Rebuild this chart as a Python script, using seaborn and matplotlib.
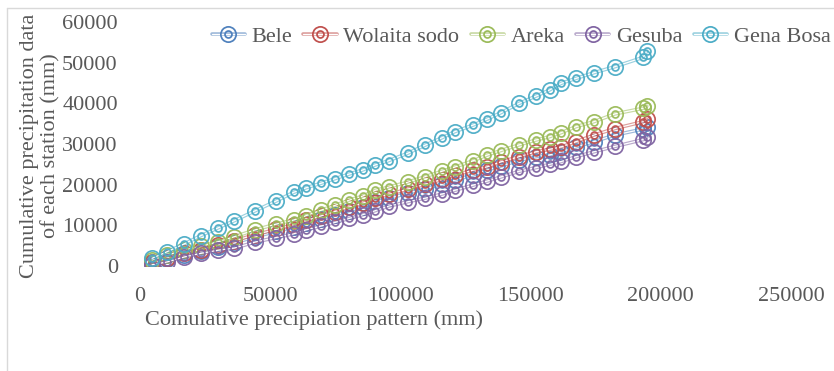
import matplotlib
matplotlib.use("Agg")
import matplotlib.pyplot as plt
from matplotlib.lines import Line2D
import numpy as np
import pandas as pd
import seaborn as sns

# ---------------- data ----------------
cum_pattern = [4640, 10430, 16890, 23300, 30140, 36210, 44320, 52280, 59000, 63870,
               69440, 74850, 80370, 85510, 90300, 95440, 102780, 109620, 116040, 120830,
               128020, 133420, 138600, 145670, 152120, 157260, 161780, 167580, 174380, 182380,
               193310, 194630]

bele = [700, 1600, 2800, 3700, 4700, 5700, 7200, 8500, 9600, 10500,
        11600, 12600, 13600, 14500, 15700, 16600, 17900, 19000, 20100, 21100,
        22400, 23600, 24600, 26000, 26900, 27300, 28100, 29300, 30600, 32200,
        33700, 34200]

wolaita_sodo = [900, 1900, 3100, 4000, 5100, 6200, 7700, 9000, 10200, 11200,
                12300, 13400, 14500, 15400, 16700, 17600, 18900, 20100, 21300, 22300,
                23600, 24400, 25600, 26900, 28100, 28700, 29300, 30600, 32200, 33800,
                35500, 36100]

areka = [1500, 2700, 3900, 4800, 6000, 7200, 8900, 10300, 11300, 12400,
         13700, 14900, 16200, 17200, 18600, 19400, 20600, 22000, 23300, 24300,
         25900, 27300, 28400, 29800, 31000, 31800, 32800, 34300, 35500, 37400,
         38800, 39300]

gesuba = [300, 1000, 2200, 3100, 3900, 4400, 5900, 7000, 7900, 8900,
          9800, 10700, 11700, 12600, 13600, 14700, 15800, 16700, 17700, 18600,
          19900, 20900, 21900, 23300, 24200, 25000, 25700, 26900, 28100, 29400,
          31100, 31700]

gena_bosa = [1890, 3520, 5410, 7450, 9420, 11140, 13600, 15980, 18120, 19250,
             20330, 21470, 22620, 23610, 24840, 25890, 27710, 29750, 31550, 33020,
             34670, 36150, 37700, 40010, 41800, 43280, 44930, 46160, 47540, 49010,
             51320, 52870]

stations = ["Bele", "Wolaita sodo", "Areka", "Gesuba", "Gena Bosa"]
series = [bele, wolaita_sodo, areka, gesuba, gena_bosa]
colors = ["#4F81BD", "#C0504D", "#9BBB59", "#8064A2", "#4BACC6"]

x_ticks = [0, 50000, 100000, 150000, 200000, 250000]
y_ticks = [0, 10000, 20000, 30000, 40000, 50000, 60000]

df = pd.concat([pd.DataFrame({"x": cum_pattern, "y": s, "station": n})
                for n, s in zip(stations, series)], ignore_index=True)

# ---------------- style ----------------
sns.set_theme(style="white")
plt.rcParams["font.family"] = ["Liberation Serif", "DejaVu Serif"]
txt = "#595959"
FS = 16

fig = plt.figure(figsize=(8.34, 3.71), dpi=100)
W, H = 834, 371
ax = fig.add_axes([140 / W, 1 - 266 / H, 651 / W, 244 / H])

LW_OUT, LW_IN = 2.6, 0.9
MS_OUT, MS_IN, MEW = 11, 5, 1.25

for name, c in zip(stations, colors):
    sub = df[df["station"] == name]
    sns.lineplot(data=sub, x="x", y="y", color=c, lw=LW_OUT, alpha=0.55,
                 sort=False, estimator=None, ax=ax, legend=False)
    sns.lineplot(data=sub, x="x", y="y", color="white", lw=LW_IN,
                 sort=False, estimator=None, ax=ax, legend=False)
    sns.lineplot(data=sub, x="x", y="y", color=c, ls="", marker="o", ms=MS_OUT,
                 mfc="none", mec=c, mew=MEW, alpha=0.95,
                 sort=False, estimator=None, ax=ax, legend=False)
    sns.lineplot(data=sub, x="x", y="y", color=c, ls="", marker="o", ms=MS_IN,
                 mfc="none", mec=c, mew=MEW, alpha=0.95,
                 sort=False, estimator=None, ax=ax, legend=False)

ax.set_xlim(0, 250000)
ax.set_ylim(0, 60000)
ax.set_xticks(x_ticks)
ax.set_yticks(y_ticks)
ax.set_xticklabels([str(v) for v in x_ticks])
ax.set_yticklabels([str(v) for v in y_ticks])
ax.tick_params(axis="both", length=0, labelsize=FS, labelcolor=txt)
ax.tick_params(axis="y", pad=16)
ax.tick_params(axis="x", pad=15)
for sp in ax.spines.values():
    sp.set_visible(False)
ax.grid(False)
ax.set_facecolor("none")

ax.set_xlabel("Comulative precipiation pattern (mm)", fontsize=FS, color=txt,
              ha="left")
ax.xaxis.set_label_coords((145 - 140) / 651, -(320 - 266) / 244)
ax.xaxis.label.set_va("center")
ax.set_ylabel("")

fig.text(40 / W, 1 - 146 / H, "Cumulative precipitation data\nof each station (mm)",
         rotation=90, ha="center", va="center", fontsize=FS, color=txt,
         linespacing=1.12, multialignment="center")

# legend
handles = []
for c in colors:
    handles.append((Line2D([], [], color=c, lw=LW_OUT, alpha=0.55),
                    Line2D([], [], color="white", lw=LW_IN),
                    Line2D([], [], ls="", marker="o", ms=MS_OUT, mfc="none", mec=c, mew=MEW),
                    Line2D([], [], ls="", marker="o", ms=MS_IN, mfc="none", mec=c, mew=MEW)))
leg = fig.legend(handles, stations, loc="center", bbox_to_anchor=(521 / W, 1 - 37 / H),
                 ncol=5, frameon=False, fontsize=FS, handlelength=1.5,
                 handletextpad=0.3, columnspacing=0.5)
for t in leg.get_texts():
    t.set_color(txt)

# chart-area border (top & left visible)
fig.add_artist(Line2D([7 / W, 7 / W], [0, 1 - 8 / H], transform=fig.transFigure,
                      color="#D9D9D9", lw=1))
fig.add_artist(Line2D([7 / W, 1], [1 - 8 / H, 1 - 8 / H], transform=fig.transFigure,
                      color="#D9D9D9", lw=1))

fig.savefig("out.png", dpi=100)
